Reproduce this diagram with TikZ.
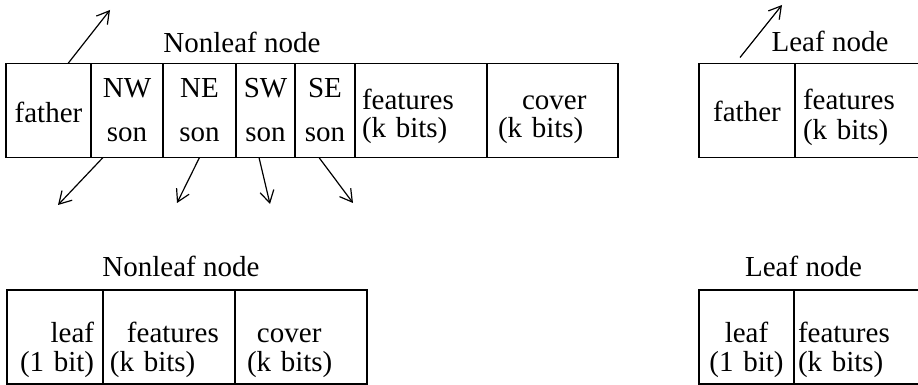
\documentclass[tikz,border=0pt]{standalone}
\usepackage{fontspec}
\setmainfont{Liberation Serif}
\usetikzlibrary{positioning, arrows.meta}

% two stacked lines in a cell, #1 = distance of the baselines
\newcommand{\twolines}[4][14pt]{%
  \begin{tabular}[b]{@{}#2@{}}#3\\[\dimexpr#1-\ht\strutbox-\dp\strutbox\relax]#4\end{tabular}}

\begin{document}
\begin{tikzpicture}[x=0.5pt, y=-0.5pt, font=\fontsize{14.5}{17.4}\selectfont]
\tikzset{
  cell/.style={draw, rectangle, line width=0.8pt, inner sep=0pt, outer sep=0pt,
               minimum height=47pt, text depth=0pt},
  ptr/.style={-{Straight Barb[length=6pt, width=7pt]}, line width=0.6pt},
  title/.style={anchor=base, inner sep=0pt}
}
\useasboundingbox (0,0) rectangle (918,385);
\clip (0,0) rectangle (918,385);

% nonleaf node, pointer version
\node[title] (nonleaf) at (242,53) {Nonleaf node};
\node[cell, minimum width=42.5pt, text width=42.5pt, align=center, text height=12.5pt]
     (father) at (48.5,110.5) {father};
\node[cell, minimum width=36pt, text width=36pt, align=center, text height=31.5pt,
      right=0pt of father] (nw) {\twolines[22pt]{c}{NW}{son}};
\node[cell, minimum width=36.5pt, text width=36.5pt, align=center, text height=31.5pt,
      right=0pt of nw] (ne) {\twolines[22pt]{c}{NE}{son}};
\node[cell, minimum width=29.5pt, text width=29.5pt, align=center, text height=31.5pt,
      right=0pt of ne] (sw) {\twolines[22pt]{c}{SW}{son}};
\node[cell, minimum width=30pt, text width=30pt, align=center, text height=31.5pt,
      right=0pt of sw] (se) {\twolines[22pt]{c}{SE}{son}};
\node[cell, minimum width=66pt, text width=59pt, align=left, text height=27.5pt,
      right=0pt of se] (feat) {\twolines{l}{features}{(k bits)}};
\node[cell, minimum width=65.5pt, text width=54.5pt, align=left, text height=27.5pt,
      right=0pt of feat] (cover) {\twolines{l}{\hspace*{12pt}cover}{(k bits)}};

\coordinate (up) at (110,10);
\coordinate (nwend) at (58,205);
\coordinate (neend) at (177,203);
\coordinate (swend) at (270,204);
\coordinate (seend) at (353,203);
\draw[ptr] ([shift={(19.5,0)}]father.north) -- (up);
\draw[ptr] ([shift={(-24,0)}]nw.south) -- (nwend);
\draw[ptr] (ne.south) -- (neend);
\draw[ptr] ([shift={(-6.5,0)}]sw.south) -- (swend);
\draw[ptr] ([shift={(-6,0)}]se.south) -- (seend);

% leaf node, pointer version
\node[title] (leaf) at (830,52) {Leaf node};
\node[cell, minimum width=48pt, text width=48pt, align=center, text height=11.5pt]
     (lfather) at (747,110.5) {father};
\node[cell, minimum width=66pt, text width=58pt, align=left, text height=29.5pt,
      right=0pt of lfather] (lfeat) {\twolines[15pt]{l}{features}{(k bits)}};
\coordinate (lup) at (782,5);
\draw[ptr] ([shift={(-7,-6)}]lfather.north) -- (lup);

% nonleaf node, pointerless version
\node[title] (bnonleaf) at (181,277) {Nonleaf node};
\node[cell, minimum width=48pt, text width=35pt, align=right, text height=35pt]
     (bleaf) at (55,337) {\twolines[14.5pt]{r}{leaf}{(1 bit)}};
\node[cell, minimum width=66pt, text width=59pt, align=left, text height=35pt,
      right=0pt of bleaf] (bfeat) {\twolines[14.5pt]{l}{\hspace*{8.5pt}features}{(k bits)}};
\node[cell, minimum width=66pt, text width=54pt, align=left, text height=35pt,
      right=0pt of bfeat] (bcover) {\twolines[14.5pt]{l}{\hspace*{5pt}cover}{(k bits)}};

% leaf node, pointerless version
\node[title] (bleafn) at (803.5,277) {Leaf node};
\node[cell, minimum width=47.5pt, text width=47.5pt, align=center, text height=35pt]
     (lleaf) at (746.5,337) {\twolines[14.5pt]{c}{leaf}{(1 bit)}};
\node[cell, minimum width=66pt, text width=62pt, align=left, text height=35pt,
      right=0pt of lleaf] (llfeat) {\twolines[14.5pt]{l}{features}{(k bits)}};
\end{tikzpicture}
\end{document}
